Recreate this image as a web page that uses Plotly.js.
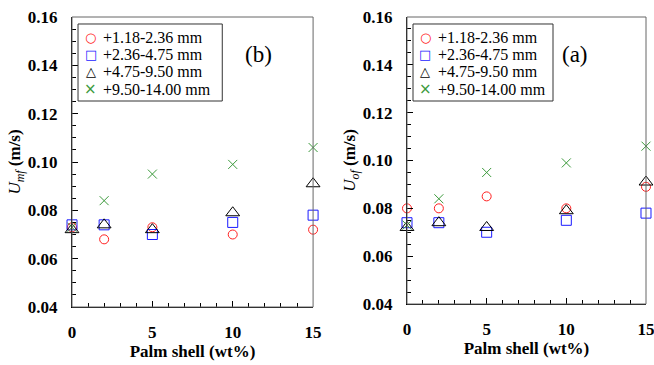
<!DOCTYPE html>
<html>
<head>
<meta charset="utf-8">
<script src="https://cdn.plot.ly/plotly-3.0.1.min.js"></script>
<style>html,body{margin:0;padding:0;background:#fff;}#chart{width:654px;height:365px;}</style>
</head>
<body>
<div id="chart"></div>
<script>
const palmShell = [0, 2, 5, 10, 15];
const seriesNames = ['+1.18-2.36 mm', '+2.36-4.75 mm', '+4.75-9.50 mm', '+9.50-14.00 mm'];
// Panel (b): Umf (m/s)
const umf_118 = [0.073, 0.068, 0.073, 0.070, 0.072];
const umf_236 = [0.074, 0.074, 0.070, 0.075, 0.078];
const umf_475 = [0.072, 0.074, 0.072, 0.079, 0.091];
const umf_950 = [0.073, 0.084, 0.095, 0.099, 0.106];
// Panel (a): Uof (m/s)
const uof_118 = [0.080, 0.080, 0.085, 0.080, 0.089];
const uof_236 = [0.074, 0.074, 0.070, 0.075, 0.078];
const uof_475 = [0.072, 0.074, 0.072, 0.079, 0.091];
const uof_950 = [0.073, 0.084, 0.095, 0.099, 0.106];
const yTicks = [0.04, 0.06, 0.08, 0.10, 0.12, 0.14, 0.16];
const xTicks = [0, 5, 10, 15];

const styles = [
  {symbol: 'circle-open', color: '#ff2020', size: 9, glyph: '\u25CB'},
  {symbol: 'square-open', color: '#1a1aff', size: 10, glyph: '\u25A1'},
  {symbol: 'triangle-up-open', color: '#000000', size: 12, glyph: '\u25B3'},
  {symbol: 'x-thin-open', color: '#3c9a3c', size: 9, glyph: '\u00D7'}
];
const left = [umf_118, umf_236, umf_475, umf_950];
const right = [uof_118, uof_236, uof_475, uof_950];
const traces = [];
function addTraces(data, xa, ya) {
  data.forEach((ys, i) => traces.push({
    x: palmShell, y: ys, name: seriesNames[i], type: 'scatter', mode: 'markers',
    xaxis: xa, yaxis: ya, showlegend: false, cliponaxis: false,
    marker: {symbol: styles[i].symbol, color: styles[i].color, size: styles[i].size,
             line: {width: 1, color: styles[i].color}}
  }));
}
addTraces(left, 'x', 'y');
addTraces(right, 'x2', 'y2');

const fontFam = '"Liberation Serif", "Times New Roman", serif';
function xax(domain, anchor) {
  return {
    domain: domain, anchor: anchor, range: [0, 15], tickvals: xTicks, ticktext: xTicks.map(String),
    ticks: 'inside', ticklen: 6, tickcolor: '#000', tickwidth: 1, ticklabelstandoff: 10,
    ticklabeloverflow: 'allow',
    minor: {dtick: 1, tick0: 0, ticks: 'inside', ticklen: 4, tickcolor: '#000', showgrid: false},
    showline: true, linecolor: '#000', linewidth: 1, mirror: false, showgrid: false, zeroline: false,
    tickfont: {family: fontFam, size: 17, color: '#000', weight: 'bold'},
    title: {text: '<b>Palm shell (wt%)</b>', font: {family: fontFam, size: 17, color: '#000'}, standoff: 2}
  };
}
function yax(domain, anchor, title) {
  return {
    domain: domain, anchor: anchor, range: [0.04, 0.16], tickvals: yTicks, ticktext: yTicks.map(v => v.toFixed(2)),
    ticks: 'inside', ticklen: 6, tickcolor: '#000', tickwidth: 1, ticklabelstandoff: 10,
    ticklabeloverflow: 'allow',
    minor: {dtick: 0.005, tick0: 0.04, ticks: 'inside', ticklen: 4, tickcolor: '#000', showgrid: false},
    showline: true, linecolor: '#000', linewidth: 1, mirror: false, showgrid: false, zeroline: false,
    tickfont: {family: fontFam, size: 17, color: '#000', weight: 'bold'},
    title: {text: title, font: {family: fontFam, size: 17, color: '#000'}, standoff: 2}
  };
}

// legend drawn as a bordered box with text rows (paper coordinates for layout only)
const annotations = [];
const shapes = [];
function legendBox(x0, x1, symX, textX) {
  shapes.push({type: 'rect', xref: 'paper', yref: 'paper', x0: x0, x1: x1, y0: 0.7103, y1: 0.9759,
               line: {color: '#333', width: 1}, fillcolor: '#fff', layer: 'above'});
  const rowsY = [0.9293, 0.8700, 0.8107, 0.7514];
  seriesNames.forEach((name, i) => {
    annotations.push({text: styles[i].glyph, xref: 'paper', yref: 'paper', x: symX, y: rowsY[i],
      xanchor: 'center', yanchor: 'middle', showarrow: false,
      font: {family: 'DejaVu Sans', size: i === 3 ? 15 : 13, color: styles[i].color}});
    annotations.push({text: name, xref: 'paper', yref: 'paper', x: textX, y: rowsY[i],
      xanchor: 'left', yanchor: 'middle', showarrow: false,
      font: {family: fontFam, size: 16, color: '#000'}});
  });
}
legendBox(0.0105, 0.2618, 0.0331, 0.0505);
legendBox(0.5941, 0.8380, 0.6150, 0.6340);
shapes.push({type: 'rect', xref: 'x domain', yref: 'y domain', x0: 0, x1: 1, y0: 0, y1: 1, line: {color: '#666', width: 1}});
shapes.push({type: 'rect', xref: 'x2 domain', yref: 'y2 domain', x0: 0, x1: 1, y0: 0, y1: 1, line: {color: '#666', width: 1}});
annotations.push({text: '(b)', xref: 'x domain', yref: 'y domain', x: 0.772, y: 0.869, xanchor: 'center', yanchor: 'middle',
  showarrow: false, font: {family: fontFam, size: 23, color: '#000'}});
annotations.push({text: '(a)', xref: 'x2 domain', yref: 'y2 domain', x: 0.703, y: 0.869, xanchor: 'center', yanchor: 'middle',
  showarrow: false, font: {family: fontFam, size: 23, color: '#000'}});

const layout = {
  width: 654, height: 365,
  margin: {l: 72, r: 8, t: 17, b: 58},
  paper_bgcolor: '#fff', plot_bgcolor: '#fff',
  font: {family: fontFam, color: '#000'},
  showlegend: false,
  xaxis: xax([0, 0.42], 'y'),
  yaxis: yax([0, 1], 'x', '<i>U</i><sub><i>mf</i></sub> <b>(m/s)</b>'),
  xaxis2: xax([0.5836, 1], 'y2'),
  yaxis2: yax([0.0103, 1], 'x2', '<i>U</i><sub><i>of</i></sub> <b>(m/s)</b>'),
  shapes: shapes,
  annotations: annotations
};
Plotly.newPlot('chart', traces, layout, {displayModeBar: false, staticPlot: true});
</script>
</body>
</html>
